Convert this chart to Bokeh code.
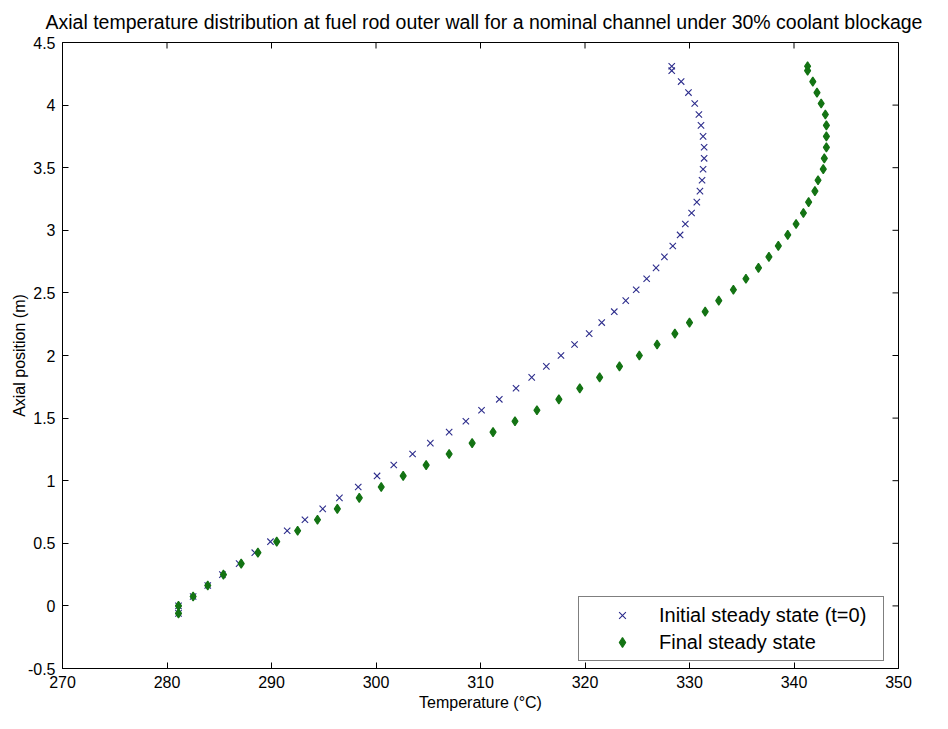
from bokeh.plotting import figure
from bokeh.models import FixedTicker, Range1d, Legend, LegendItem
from bokeh.embed import file_html
from bokeh.resources import INLINE

title_text = "Axial temperature distribution at fuel rod outer wall for a nominal channel under 30% coolant blockage"
x_label = "Temperature (\u00b0C)"
y_label = "Axial position (m)"
x_ticks = [270, 280, 290, 300, 310, 320, 330, 340, 350]
y_ticks = [-0.5, 0, 0.5, 1, 1.5, 2, 2.5, 3, 3.5, 4, 4.5]
y_tick_labels = ["-0.5", "0", "0.5", "1", "1.5", "2", "2.5", "3", "3.5", "4", "4.5"]
series_names = ["Initial steady state (t=0)", "Final steady state"]

axial_position = [-0.06, 0.0,
                  0.075, 0.163, 0.25, 0.338, 0.425, 0.513, 0.6, 0.688, 0.775, 0.863,
                  0.95, 1.038, 1.125, 1.213, 1.3, 1.388, 1.475, 1.563, 1.65, 1.738,
                  1.825, 1.913, 2.0, 2.088, 2.175, 2.263, 2.35, 2.438, 2.525, 2.613,
                  2.7, 2.788, 2.875, 2.963, 3.05, 3.138, 3.225, 3.313, 3.4, 3.488,
                  3.575, 3.663, 3.75, 3.838, 3.925, 4.013, 4.1, 4.188, 4.275, 4.31]

t_initial = [281.1, 281.1, 282.5, 283.9, 285.3, 286.9, 288.4, 289.9, 291.5, 293.2, 294.9, 296.5,
             298.3, 300.1, 301.7, 303.5, 305.2, 307.0, 308.6, 310.1, 311.8, 313.4,
             314.9, 316.3, 317.7, 319.0, 320.4, 321.6, 322.8, 323.9, 324.9, 325.9,
             326.8, 327.6, 328.4, 329.1, 329.6, 330.2, 330.7, 331.0, 331.2, 331.3,
             331.4, 331.4, 331.3, 331.1, 330.9, 330.5, 329.9, 329.2, 328.3, 328.3]

t_final = [281.1, 281.1, 282.5, 283.9, 285.4, 287.1, 288.7, 290.5, 292.5, 294.4, 296.3, 298.4,
           300.5, 302.6, 304.8, 307.0, 309.2, 311.2, 313.3, 315.4, 317.5, 319.5,
           321.4, 323.3, 325.2, 326.9, 328.6, 330.0, 331.5, 332.8, 334.2, 335.4,
           336.6, 337.6, 338.5, 339.4, 340.2, 340.9, 341.4, 342.0, 342.3, 342.8,
           342.9, 343.1, 343.1, 343.1, 343.0, 342.6, 342.2, 341.8, 341.3, 341.3]

FONT = "Liberation Sans"
W, H = 932, 713
BL, BR, BT, BB = 62, 34, 42, 45
x0, x1 = x_ticks[0], x_ticks[-1]
y0, y1 = y_ticks[0], y_ticks[-1]

p = figure(width=W, height=H, output_backend="svg", toolbar_location=None,
           x_range=Range1d(x0, x1), y_range=Range1d(y0, y1),
           min_border_left=BL, min_border_right=BR, min_border_top=BT, min_border_bottom=BB,
           background_fill_color="white", border_fill_color="white")

p.title.text = title_text
p.title.align = "left"
p.title.offset = -17
p.title.vertical_align = "top"
p.title.standoff = 16
p.title.text_font = FONT
p.title.text_font_size = "19.5px"
p.title.text_font_style = "normal"
p.title.text_color = "black"

p.xgrid.visible = False
p.ygrid.visible = False
p.outline_line_color = "black"
p.outline_line_width = 1

for ax in p.xaxis:
    ax.ticker = FixedTicker(ticks=x_ticks)
for ax in p.yaxis:
    ax.ticker = FixedTicker(ticks=y_ticks)
    ax.major_label_overrides = {v: s for v, s in zip(y_ticks, y_tick_labels)}

p.xaxis.axis_label = x_label
p.yaxis.axis_label = y_label

for ax in list(p.xaxis) + list(p.yaxis):
    ax.major_tick_in = 6
    ax.major_tick_out = 0
    ax.minor_tick_line_color = None
    ax.axis_line_color = "black"
    ax.major_tick_line_color = "black"
    ax.major_label_text_font = FONT
    ax.major_label_text_font_size = "16px"
    ax.major_label_text_color = "black"
    ax.axis_label_text_font = FONT
    ax.axis_label_text_font_size = "16px"
    ax.axis_label_text_font_style = "normal"
    ax.axis_label_text_color = "black"
p.xaxis.major_label_standoff = 7
p.xaxis.axis_label_standoff = 3
p.yaxis.major_label_standoff = 7
p.yaxis.axis_label_standoff = -3

# inward ticks on the top and right edges of the box (MATLAB style)
frame_w = W - BL - BR
frame_h = H - BT - BB
tick_px = 6
dx = tick_px * (x1 - x0) / frame_w
dy = tick_px * (y1 - y0) / frame_h
p.segment(x0=x_ticks, y0=[y1] * len(x_ticks), x1=x_ticks, y1=[y1 - dy] * len(x_ticks),
          line_color="black", line_width=1)
p.segment(x0=[x1] * len(y_ticks), y0=y_ticks, x1=[x1 - dx] * len(y_ticks), y1=y_ticks,
          line_color="black", line_width=1)

r1 = p.scatter(t_initial, axial_position, marker="x", size=9,
               line_color="#2d2d8c", line_width=1.1)
r2 = p.scatter(t_final, axial_position, marker="diamond", size=9,
               fill_color="#137313", line_color="#137313", line_width=1.2)

legend = Legend(items=[LegendItem(label=series_names[0], renderers=[r1]),
                       LegendItem(label=series_names[1], renderers=[r2])],
                location=(516, 7), padding=6, spacing=3, margin=0,
                glyph_width=74, glyph_height=24, label_height=24,
                label_standoff=0, label_width=218,
                label_text_font=FONT, label_text_font_size="20px", label_text_color="black",
                border_line_color="black", border_line_width=1,
                background_fill_color="white", background_fill_alpha=1.0)
p.add_layout(legend)

open("out.html", "w").write(file_html(p, INLINE))
